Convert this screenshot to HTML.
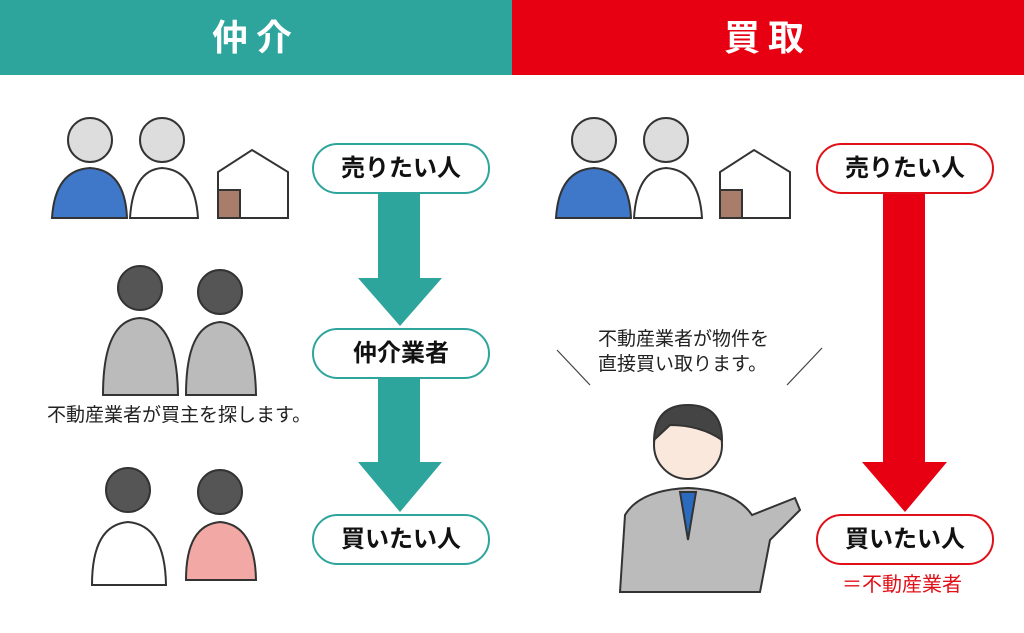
<!DOCTYPE html>
<html><head><meta charset="utf-8"><style>
body{margin:0;width:1024px;height:633px;background:#fff;overflow:hidden;position:relative;font-family:"Liberation Sans","Noto Sans CJK JP",sans-serif}
.h{position:absolute;top:0;height:75px;color:#fff;font-weight:bold;font-size:36px;line-height:75px;text-align:center;letter-spacing:8px}
.p{position:absolute;width:174px;height:47px;border:2px solid #2ea59c;border-radius:26px;background:#fff;text-align:center;line-height:47px;font-size:24px;font-weight:bold;color:#111}
.r{border-color:#e01018}
.t{position:absolute;font-size:19px;color:#222;line-height:25px;white-space:nowrap}
</style></head><body>
<div class="h" style="left:0;width:512px;background:#2ea59c">仲介</div>
<div class="h" style="left:512px;width:512px;background:#e60012">買取</div>
<svg width="1024" height="633" style="position:absolute;left:0;top:0">
<g fill="#2ea59c"><polygon points="378,190 420,190 420,278 442,278 400,326 358,278 378,278"/>
<polygon points="378,376 420,376 420,462 442,462 400,512 358,462 378,462"/></g>
<polygon fill="#e60012" points="883,190 925,190 925,462 947,462 905,512 862,462 883,462"/>
<g stroke="#444" stroke-width="1.2"><line x1="557" y1="350" x2="590" y2="385"/><line x1="822" y1="348" x2="787" y2="385"/></g>
<g stroke="#333" stroke-width="2">
<g fill="#ddd"><circle cx="90" cy="140" r="22"/><circle cx="162" cy="140" r="22"/></g>
<path d="M52 218 Q55 170 90 168 Q125 170 127 218Z" fill="#3f78c8"/>
<path d="M130 218 Q133 170 162 168 Q195 170 198 218Z" fill="#fff"/>
<path d="M218 218 V172 L252 150 L288 172 V218Z" fill="#fff"/><rect x="218" y="190" width="22" height="28" fill="#a87e6a"/>
<g fill="#ddd"><circle cx="594" cy="140" r="22"/><circle cx="666" cy="140" r="22"/></g>
<path d="M556 218 Q559 170 594 168 Q629 170 631 218Z" fill="#3f78c8"/>
<path d="M634 218 Q637 170 666 168 Q699 170 702 218Z" fill="#fff"/>
<path d="M720 218 V172 L754 150 L790 172 V218Z" fill="#fff"/><rect x="720" y="190" width="22" height="28" fill="#a87e6a"/>
<g fill="#555"><circle cx="140" cy="288" r="22"/><circle cx="220" cy="292" r="22"/></g>
<path d="M103 395 Q103 320 140 318 Q177 320 178 395Z" fill="#bbb"/>
<path d="M186 395 Q186 325 220 322 Q255 325 256 395Z" fill="#bbb"/>
<g fill="#555"><circle cx="128" cy="490" r="22"/><circle cx="220" cy="492" r="22"/></g>
<path d="M92 585 Q92 525 128 522 Q165 525 166 585Z" fill="#fff"/>
<path d="M186 580 Q186 525 220 522 Q255 525 256 580Z" fill="#f2a9a5"/>
<circle cx="688" cy="445" r="34" fill="#fbe8dc"/><path d="M654 440 Q655 405 688 405 Q722 405 722 440 Q700 425 670 425Z" fill="#444"/>
<path d="M620 592 L625 515 Q640 490 688 488 Q735 490 752 515 L795 498 L800 510 L770 540 L760 592Z" fill="#bbb"/>
<path d="M680 492 L688 540 L696 492Z" fill="#2a6bc0"/>
</g>
</svg>
<div class="p" style="left:312px;top:143px">売りたい人</div>
<div class="p" style="left:312px;top:328px">仲介業者</div>
<div class="p" style="left:312px;top:514px">買いたい人</div>
<div class="p r" style="left:816px;top:143px">売りたい人</div>
<div class="p r" style="left:816px;top:514px">買いたい人</div>
<div class="t" style="left:47px;top:403px">不動産業者が買主を探します。</div>
<div class="t" style="left:598px;top:327px">不動産業者が物件を<br>直接買い取ります。</div>
<div class="t" style="left:842px;top:573px;color:#e01018;font-size:20px">＝不動産業者</div>
</body></html>
